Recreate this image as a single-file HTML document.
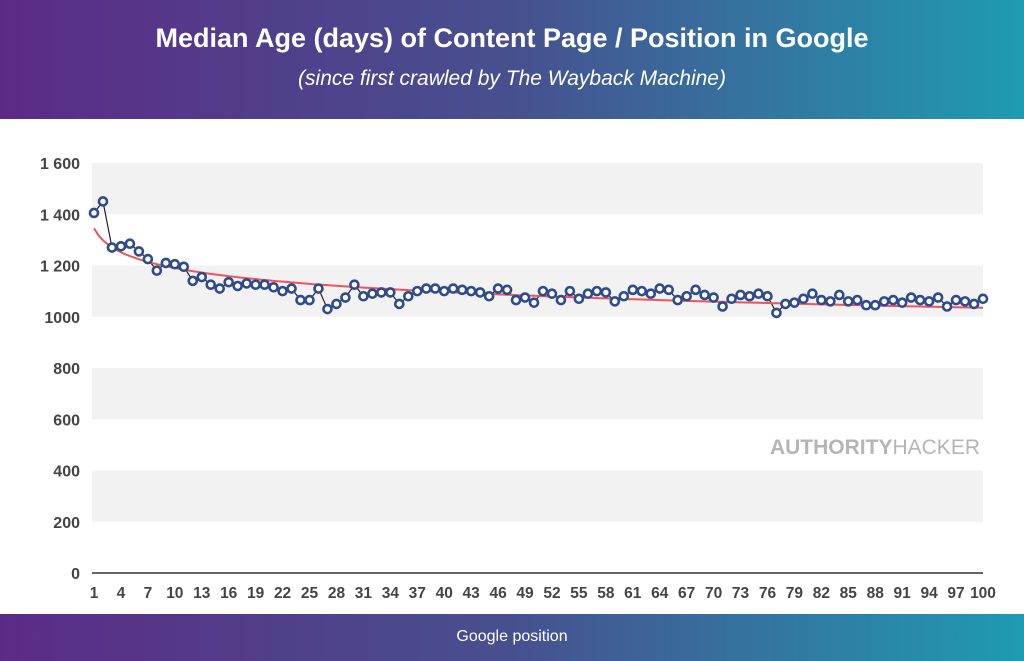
<!DOCTYPE html>
<html><head><meta charset="utf-8"><style>
body{margin:0;width:1024px;height:661px;overflow:hidden;background:#fff;font-family:"Liberation Sans",sans-serif;}
#hdr{position:absolute;left:0;top:0;width:1024px;height:119px;background:linear-gradient(90deg,#5c2b86,#47508f 50%,#1f9bb1);}
#ftr{position:absolute;left:0;top:614px;width:1024px;height:47px;background:linear-gradient(90deg,#5c2b86,#47508f 50%,#1f9bb1);color:#fff;text-align:center;font-size:16px;line-height:46px;}
svg{position:absolute;left:0;top:0}
</style></head><body>
<div id="hdr">
<div style="position:absolute;top:23px;width:1024px;text-align:center;color:#fff;font-weight:bold;font-size:27px;">Median Age (days) of Content Page / Position in Google</div>
<div style="position:absolute;top:67px;width:1024px;text-align:center;color:#fff;font-style:italic;font-size:21px;">(since first crawled by The Wayback Machine)</div>
</div>
<svg id="c" width="1024" height="661"></svg>
<div id="ftr">Google position</div>
<script>
const positions=[];for(let i=1;i<=100;i++)positions.push(i);
const ages=[1405,1450,1270,1275,1285,1255,1225,1180,1210,1205,1195,1140,1155,1125,1110,1135,1120,1130,1125,1125,1115,1100,1110,1065,1065,1110,1030,1050,1075,1125,1080,1090,1095,1095,1050,1080,1100,1110,1110,1100,1110,1105,1100,1095,1080,1110,1105,1065,1075,1055,1100,1090,1065,1100,1070,1090,1100,1095,1060,1080,1105,1100,1090,1110,1105,1065,1080,1105,1085,1075,1040,1070,1085,1080,1090,1080,1015,1050,1055,1070,1090,1065,1060,1085,1060,1065,1045,1045,1060,1065,1055,1075,1065,1060,1075,1040,1065,1060,1050,1070];
const yTicks=[0,200,400,600,800,1000,1200,1400,1600];
const yTickLabels=["0","200","400","600","800","1000","1 200","1 400","1 600"];
const trendA=1345, trendB=-67.3;
const svg=document.getElementById('c'),NS='http://www.w3.org/2000/svg';
const X=p=>94+(p-1)*(983-94)/99, Y=v=>573-v*410/1600;
function mk(t,a,name){const e=document.createElementNS(NS,t);for(const k in a)e.setAttribute(k,a[k]);


svg.appendChild(e);return e;}
for(let i=0;i<yTicks.length-1;i++){ if(i%2==1) mk('rect',{x:92,y:Y(yTicks[i+1]),width:891,height:Y(yTicks[i])-Y(yTicks[i+1]),fill:'#f2f2f2'},'grid-band');}
yTicks.forEach((v,i)=>{const t=mk('text',{x:80,y:Y(v)+6,'text-anchor':'end','font-size':16,'font-weight':'bold',fill:'#444'},'y-tick-label');t.textContent=yTickLabels[i];});
mk('line',{x1:92,x2:983,y1:573,y2:573,stroke:'#666','stroke-width':2},'x-axis-line');
positions.forEach(p=>{if((p-1)%3==0){const t=mk('text',{x:X(p),y:598,'text-anchor':'middle','font-size':15.5,'font-weight':'bold',fill:'#444'},'x-tick-label');t.textContent=p;}});
const wm=mk('text',{x:980,y:454,'text-anchor':'end','font-size':21,fill:'#b5b5b5'},'watermark');
wm.innerHTML='<tspan font-weight="bold">AUTHORITY</tspan>HACKER';
mk('polyline',{points:positions.map((p,i)=>X(p)+','+Y(ages[i])).join(' '),fill:'none',stroke:'#222','stroke-width':1.2},'series-line');
let tp=[];for(let p=1;p<=100;p+=0.5)tp.push(X(p)+','+Y(trendA+trendB*Math.log(p)));
mk('polyline',{points:tp.join(' '),fill:'none',stroke:'#f0545a','stroke-width':2},'trend-line');
positions.forEach((p,i)=>{mk('circle',{cx:X(p),cy:Y(ages[i]),r:4,fill:'#fff',stroke:'#2d4b8e','stroke-width':2.6},'data-point');});
</script>
</body></html>
